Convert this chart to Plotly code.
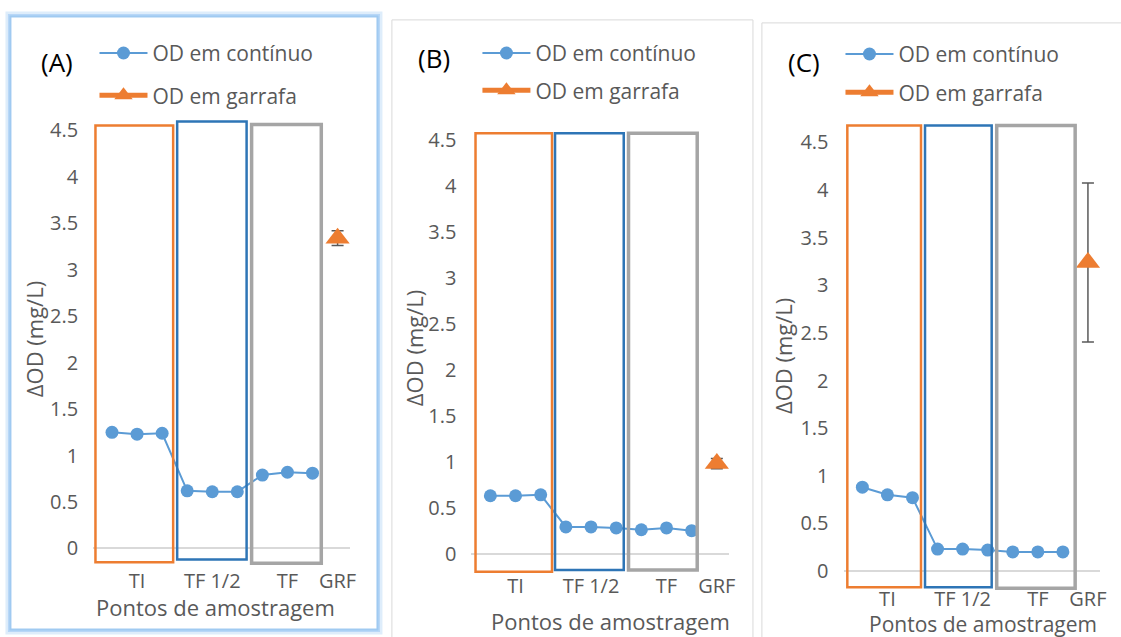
import plotly.graph_objects as go

W, H = 1121, 637

# ---- data -------------------------------------------------------------
x_pos = list(range(10))                      # sampling positions (category slots)
tick_pos = [1, 4, 7, 9]
tick_text = ["TI", "TF 1/2", "TF", "GRF"]
y_ticks = [0, 0.5, 1, 1.5, 2, 2.5, 3, 3.5, 4, 4.5]
y_tick_text = ["0", "0.5", "1", "1.5", "2", "2.5", "3", "3.5", "4", "4.5"]

cont_a = [1.25, 1.23, 1.24, 0.62, 0.61, 0.61, 0.79, 0.82, 0.81]
cont_b = [0.63, 0.63, 0.64, 0.29, 0.29, 0.28, 0.26, 0.28, 0.25]
cont_c = [0.88, 0.80, 0.77, 0.23, 0.23, 0.22, 0.20, 0.20, 0.20]
garrafa_val = [3.34, 0.98, 3.24]
garrafa_err = [0.08, 0.055, 0.835]
panel_tags = ["(A)", "(B)", "(C)"]

BLUE = "#5b9bd5"
ORANGE = "#ed7d31"
BOX_BLUE = "#2e75b6"
BOX_GRAY = "#a5a5a5"
TXT = "#595959"
FONT = "Open Sans"


def fx(px):
    return px / W


def fy(py):
    return 1 - py / H


# per-panel geometry: pixel of y=0, px per unit, px of slot 0, px per slot
panels = [
    dict(zero=548.0, unit=93.33, x0=112.6, step=25.2, yr=[-0.2, 4.65],
         boxes=[(-0.66, 2.44, -0.15, 4.554, ORANGE, 2.5),
                (2.6, 5.37, -0.118, 4.597, BOX_BLUE, 2.5),
                (5.57, 8.35, -0.16, 4.565, BOX_GRAY, 3.5)],
         tag=(57, 59), ytitle=(35, 338), xtitle=(217, 607), xsize=22,
         legend=(95, 30), gap=12, xstand=0),
    dict(zero=553.2, unit=92.25, x0=493.0, step=25.3, yr=[-0.22, 4.62],
         boxes=[(-0.59, 2.45, -0.198, 4.577, ORANGE, 2.5),
                (2.57, 5.30, -0.18, 4.577, BOX_BLUE, 2.5),
                (5.49, 8.22, -0.18, 4.577, BOX_GRAY, 3.5)],
         tag=(436, 55), ytitle=(417, 347), xtitle=(614, 621), xsize=22,
         legend=(480, 30), gap=7, xstand=-2),
    dict(zero=570.7, unit=95.7, x0=867.0, step=25.2, yr=[-0.2, 4.72],
         boxes=[(-0.6, 2.34, -0.17, 4.678, ORANGE, 2.5),
                (2.5, 5.16, -0.17, 4.678, BOX_BLUE, 2.5),
                (5.36, 8.49, -0.18, 4.678, BOX_GRAY, 3.5)],
         tag=(808, 59), ytitle=(788, 355), xtitle=(988, 624), xsize=21,
         legend=(845, 31), gap=8, xstand=-5),
]
XR = [-0.75, 9.5]
series = [cont_a, cont_b, cont_c]

fig = go.Figure()
shapes = []
annotations = []
layout = {}

# panel frames: (A) is the selected one, with a soft blue glow
for off, w, col in [(5, 3, "rgba(200,225,248,0.6)"),
                    (3, 2, "rgba(170,208,245,0.8)"),
                    (1.5, 2, "rgba(150,196,240,0.9)")]:
    shapes.append(dict(type="rect", xref="paper", yref="paper",
                       x0=fx(12 - off), x1=fx(378 + off), y0=fy(628 + off), y1=fy(15 - off),
                       line=dict(color=col, width=w), fillcolor="rgba(0,0,0,0)", layer="below"))
shapes.append(dict(type="rect", xref="paper", yref="paper",
                   x0=fx(394), x1=fx(757), y0=fy(660), y1=fy(17),
                   line=dict(color="#d9d9d9", width=1), layer="below"))
shapes.append(dict(type="rect", xref="paper", yref="paper",
                   x0=fx(766), x1=fx(1140), y0=fy(660), y1=fy(20),
                   line=dict(color="#d9d9d9", width=1), layer="below"))

for i, p in enumerate(panels):
    n = "" if i == 0 else str(i + 1)
    xa, ya = "x" + n, "y" + n
    leg = "legend" + n
    dx0 = p["x0"] + XR[0] * p["step"]
    dx1 = p["x0"] + XR[1] * p["step"]
    dy_bot = p["zero"] - p["yr"][0] * p["unit"]
    dy_top = p["zero"] - p["yr"][1] * p["unit"]

    layout["xaxis" + n] = dict(domain=[fx(dx0), fx(dx1)], range=XR, anchor=ya,
                               tickmode="array", tickvals=tick_pos, ticktext=tick_text,
                               showgrid=False, zeroline=False, showline=False, ticks="",
                               ticklabelstandoff=p["xstand"],
                               tickfont=dict(family=FONT, size=20, color=TXT),
                               fixedrange=True)
    layout["yaxis" + n] = dict(domain=[fy(dy_bot), fy(dy_top)], range=p["yr"], anchor=xa,
                               tickmode="array", tickvals=y_ticks, ticktext=y_tick_text,
                               showgrid=False, zeroline=True, zerolinecolor="#d9d9d9",
                               zerolinewidth=1.5, showline=False, ticks="",
                               ticklabelstandoff=14,
                               tickfont=dict(family=FONT, size=20, color=TXT),
                               fixedrange=True)

    fig.add_trace(go.Scatter(
        x=x_pos[:9], y=series[i], xaxis=xa, yaxis=ya, legend=leg,
        mode="lines+markers", name="OD em contínuo", legendgroup="c" + n,
        line=dict(color=BLUE, width=2), marker=dict(color=BLUE, size=13),
        cliponaxis=False))
    fig.add_trace(go.Scatter(
        x=[x_pos[9]], y=[garrafa_val[i]], xaxis=xa, yaxis=ya, legend=leg,
        mode="lines+markers", name="OD em garrafa", legendgroup="g" + n,
        line=dict(color=ORANGE, width=5),
        marker=dict(color=ORANGE, size=21, symbol="triangle-up"),
        error_y=dict(type="data", array=[garrafa_err[i]], symmetric=True,
                     color="#595959", thickness=1.5, width=6),
        cliponaxis=False))

    lx, ly = p["legend"]
    layout[leg] = dict(x=fx(lx), y=fy(ly), xanchor="left", yanchor="top",
                       bgcolor="rgba(0,0,0,0)", borderwidth=0,
                       font=dict(family=FONT, size=21, color=TXT),
                       itemwidth=48, traceorder="grouped", tracegroupgap=p["gap"],
                       itemclick=False, itemdoubleclick=False)

    for (a, b, lo, hi, col, lw) in p["boxes"]:
        shapes.append(dict(type="rect", xref=xa, yref=ya, x0=a, x1=b, y0=lo, y1=hi,
                           line=dict(color=col, width=lw), fillcolor="rgba(0,0,0,0)",
                           layer="above"))

    tx, ty = p["tag"]
    annotations.append(dict(text=panel_tags[i], x=fx(tx), y=fy(ty), xref="paper", yref="paper",
                            showarrow=False, xanchor="center", yanchor="middle",
                            font=dict(family=FONT, size=26, color="#000000")))
    tx, ty = p["ytitle"]
    annotations.append(dict(text="ΔOD (mg/L)", x=fx(tx), y=fy(ty), xref="paper", yref="paper",
                            showarrow=False, xanchor="center", yanchor="middle", textangle=-90,
                            font=dict(family=FONT, size=22, color=TXT)))
    tx, ty = p["xtitle"]
    annotations.append(dict(text="Pontos de amostragem", x=fx(tx), y=fy(ty), xref="paper",
                            yref="paper", showarrow=False, xanchor="center", yanchor="middle",
                            font=dict(family=FONT, size=p["xsize"], color=TXT)))

fig.update_layout(
    width=W, height=H,
    margin=dict(l=0, r=0, t=0, b=0),
    paper_bgcolor="white", plot_bgcolor="rgba(0,0,0,0)",
    shapes=shapes, annotations=annotations,
    **layout,
)

fig.write_html("out.html", config={"displayModeBar": False})
